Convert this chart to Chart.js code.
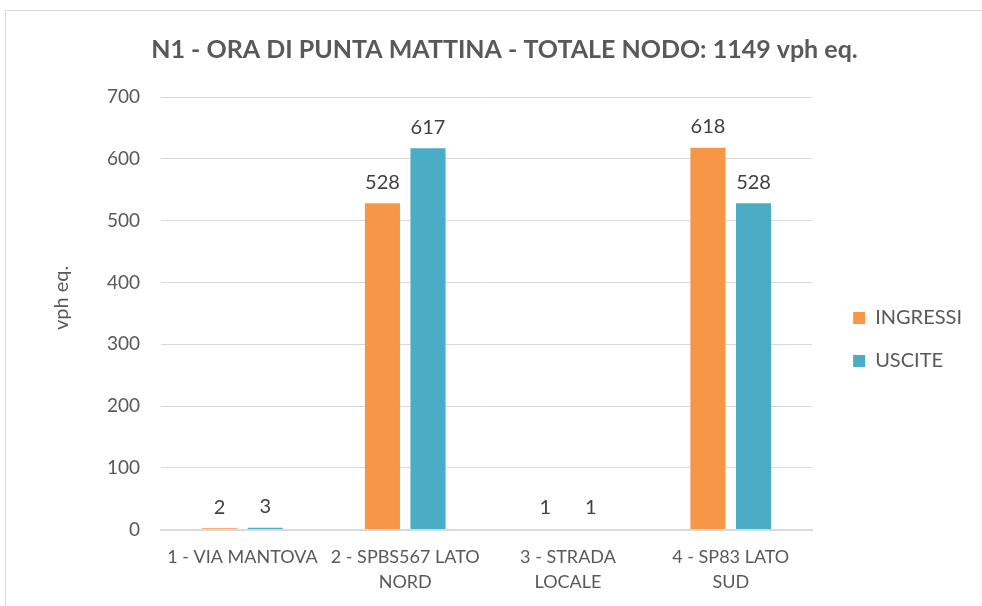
<!DOCTYPE html>
<html>
<head>
<meta charset="utf-8">
<script src="https://cdn.jsdelivr.net/npm/chart.js@4"></script>
<style>
  html, body { margin: 0; padding: 0; background: #fff; overflow: hidden; }
  #frame {
    position: absolute; left: 5px; top: 10px; width: 1020px; height: 620px;
    border: 1px solid #d9d9d9;
  }
  #wrap { position: absolute; left: 0; top: 0; width: 1008px; height: 606px; }
</style>
</head>
<body>
<div id="frame"></div>
<div id="wrap"><canvas id="chart"></canvas></div>
<script>
// ===== DATA =====
const titleText = 'N1 - ORA DI PUNTA MATTINA - TOTALE NODO: 1149 vph eq.';
const categories = [
  ['1 - VIA MANTOVA'],
  ['2 - SPBS567 LATO', 'NORD'],
  ['3 - STRADA', 'LOCALE'],
  ['4 - SP83 LATO', 'SUD']
];
const ingressi = [2, 528, 1, 618];
const uscite = [3, 617, 1, 528];
const yTicks = [0, 100, 200, 300, 400, 500, 600, 700];

const FONT = 'Lato, "Open Sans", sans-serif';
const TEXT = '#595959';

// draws the value above each bar (no datalabels plugin available offline)
const valueLabels = {
  id: 'valueLabels',
  afterDatasetsDraw(chart) {
    const ctx = chart.ctx;
    ctx.save();
    ctx.font = '20px ' + FONT;
    ctx.fillStyle = '#404040';
    ctx.textAlign = 'center';
    ctx.textBaseline = 'bottom';
    chart.data.datasets.forEach((ds, i) => {
      chart.getDatasetMeta(i).data.forEach((bar, j) => {
        ctx.fillText(ds.data[j], bar.x, bar.y - 11);
      });
    });
    ctx.restore();
  }
};

new Chart(document.getElementById('chart'), {
  type: 'bar',
  data: {
    labels: categories,
    datasets: [
      { label: 'INGRESSI', data: ingressi, backgroundColor: '#F79646' },
      { label: 'USCITE', data: uscite, backgroundColor: '#4BACC6' }
    ]
  },
  options: {
    responsive: true,
    maintainAspectRatio: false,
    animation: false,
    categoryPercentage: 0.56,
    barPercentage: 0.77,
    layout: { padding: { left: 37, right: 36, top: 35, bottom: 4 } },
    plugins: {
      title: {
        display: true,
        text: titleText,
        color: TEXT,
        font: { family: FONT, size: 25, weight: 'bold' },
        padding: { top: 0, bottom: 32 }
      },
      legend: {
        position: 'right',
        title: { display: true, text: ' ', font: { size: 10 }, padding: 15 },
        labels: {
          color: TEXT,
          font: { family: FONT, size: 20 },
          boxWidth: 12,
          boxHeight: 12,
          padding: 23
        }
      },
      tooltip: { enabled: false }
    },
    scales: {
      x: {
        z: 1,
        grid: { display: false },
        border: { color: '#d9d9d9', width: 2 },
        ticks: {
          color: TEXT,
          font: { family: FONT, size: 18, lineHeight: 1.4 },
          maxRotation: 0,
          autoSkip: false,
          padding: 7
        }
      },
      y: {
        min: 0,
        max: yTicks[yTicks.length - 1],
        afterBuildTicks: axis => { axis.ticks = yTicks.map(v => ({ value: v })); },
        grid: { color: '#d9d9d9', drawTicks: false },
        border: { display: false },
        ticks: {
          color: TEXT,
          font: { family: FONT, size: 19 },
          padding: 21
        },
        title: {
          display: true,
          // leading spaces lift the title a little above the axis middle, as in the original
          text: '      vph eq.',
          color: TEXT,
          font: { family: FONT, size: 20 },
          padding: { top: 13, bottom: 12 }
        }
      },
      // empty spacer between plot area and legend
      gap: {
        position: 'right',
        display: true,
        grid: { display: false },
        border: { display: false },
        ticks: { display: false },
        afterFit: s => { s.width = 18; }
      }
    }
  },
  plugins: [valueLabels]
});
</script>
</body>
</html>
